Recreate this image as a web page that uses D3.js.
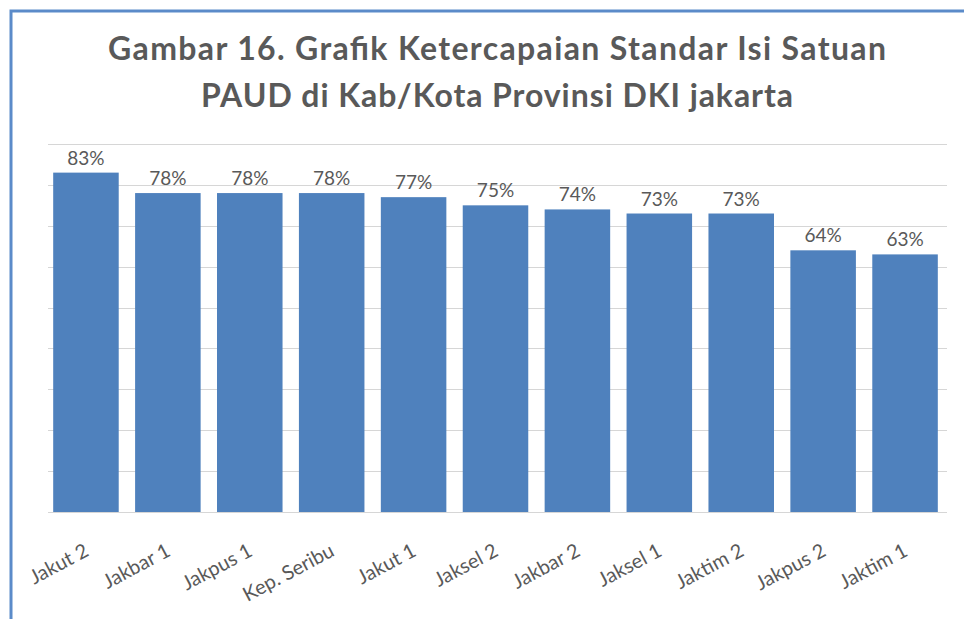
<!DOCTYPE html>
<html>
<head>
<meta charset="utf-8">
<script src="https://cdn.jsdelivr.net/npm/d3@7"></script>
<style>
  body { margin: 0; background: #fff; }
  svg text { font-family: Lato, "Open Sans", sans-serif; fill: #595959; }
</style>
</head>
<body>
<div id="chart"></div>
<script>
// data
const categories = ['Jakut 2', 'Jakbar 1', 'Jakpus 1', 'Kep. Seribu', 'Jakut 1', 'Jaksel 2',
  'Jakbar 2', 'Jaksel 1', 'Jaktim 2', 'Jakpus 2', 'Jaktim 1'];
const values = [83, 78, 78, 78, 77, 75, 74, 73, 73, 64, 63];
const gridTicks = [0, 10, 20, 30, 40, 50, 60, 70, 80, 90];
const titleLines = ['Gambar 16. Grafik Ketercapaian Standar Isi Satuan',
  'PAUD di Kab/Kota Provinsi DKI jakarta'];

const width = 964;
const height = 619;
const plot = { left: 48, right: 947, top: 144, bottom: 512 };
// stretch the title lines to the width Calibri gives in the original
const titleWidths = [778, 592];

const svg = d3.select('#chart').append('svg')
  .attr('width', width)
  .attr('height', height);

// frame (only top + left edge visible in the crop)
svg.append('rect')
  .attr('x', 11).attr('y', 11)
  .attr('width', width + 20).attr('height', height + 20)
  .attr('fill', 'none')
  .attr('stroke', '#5b8bc9')
  .attr('stroke-width', 3);

const x = d3.scaleBand()
  .domain(categories)
  .range([45, 946])
  .paddingInner(0.2)
  .paddingOuter(0.1);

const y = d3.scaleLinear()
  .domain([0, 90])
  .range([plot.bottom, plot.top]);

// gridlines
svg.append('g')
  .selectAll('line')
  .data(gridTicks)
  .join('line')
  .attr('x1', plot.left)
  .attr('x2', plot.right)
  .attr('y1', (d) => Math.round(y(d)) + 0.5)
  .attr('y2', (d) => Math.round(y(d)) + 0.5)
  .attr('stroke', '#d6d6d6')
  .attr('stroke-width', 1);

// bars
svg.append('g')
  .selectAll('rect')
  .data(values)
  .join('rect')
  .attr('x', (d, i) => x(categories[i]))
  .attr('y', (d) => y(d))
  .attr('width', x.bandwidth())
  .attr('height', (d) => y(0) - y(d))
  .attr('fill', '#4f81bd');

// value labels
svg.append('g')
  .selectAll('text')
  .data(values)
  .join('text')
  .attr('x', (d, i) => x(categories[i]) + x.bandwidth() / 2)
  .attr('y', (d) => y(d) - 8)
  .attr('text-anchor', 'middle')
  .attr('font-size', 19)
  .text((d) => `${d}%`);

// category labels, rotated like Excel does
svg.append('g')
  .selectAll('text')
  .data(categories)
  .join('text')
  .attr('transform', (d) => `translate(${x(d) + x.bandwidth() / 2 + 4},555) rotate(-28)`)
  .attr('text-anchor', 'end')
  .attr('font-size', 20)
  .text((d) => d);

// title
svg.append('g')
  .selectAll('text')
  .data(titleLines)
  .join('text')
  .attr('x', 497)
  .attr('y', (d, i) => 60 + i * 47)
  .attr('text-anchor', 'middle')
  .attr('font-size', 32)
  .attr('font-weight', 'bold')
  .attr('textLength', (d, i) => titleWidths[i])
  .attr('lengthAdjust', 'spacing')
  .text((d) => d);
</script>
</body>
</html>
